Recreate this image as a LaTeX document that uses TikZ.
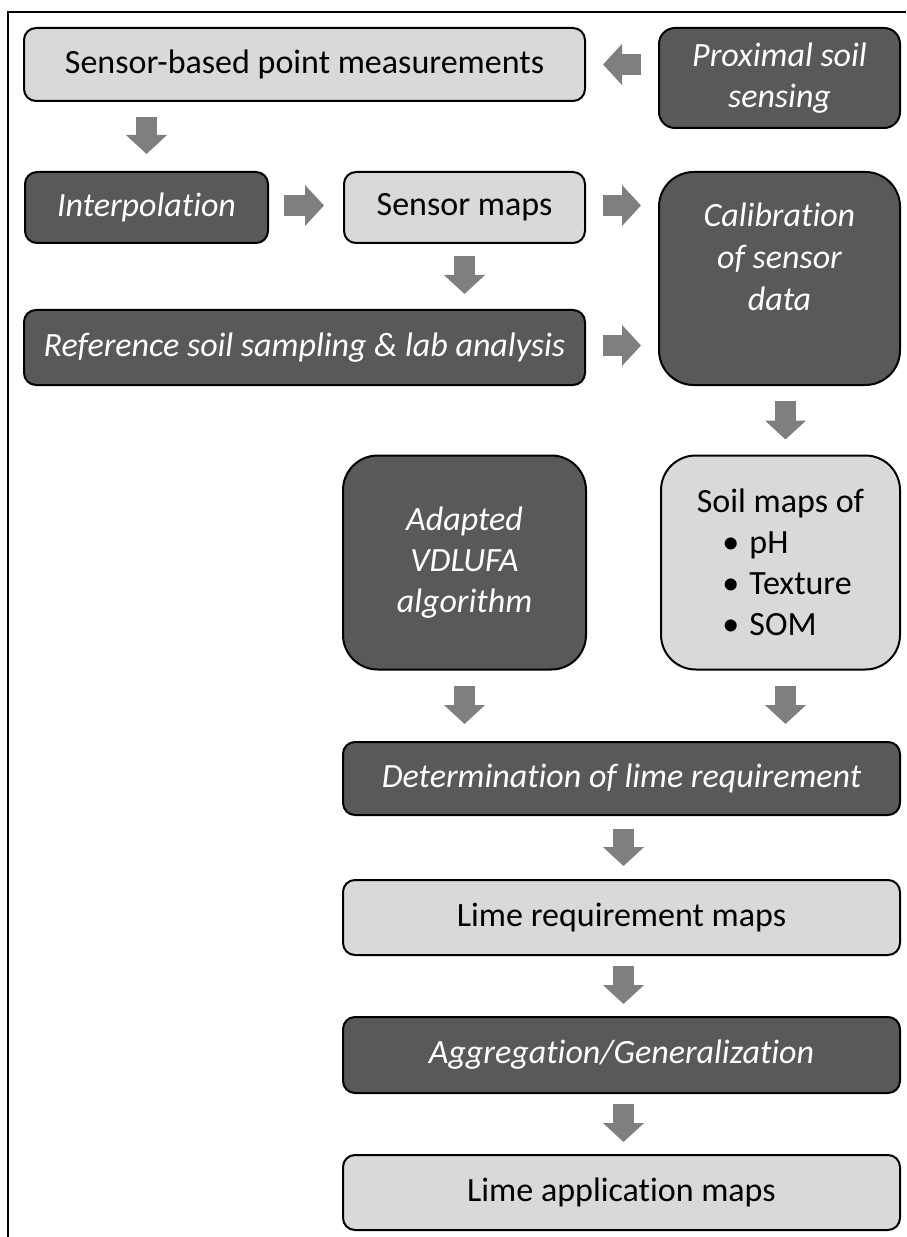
\documentclass[tikz,border=0pt]{standalone}
\usepackage{fontspec}
\setmainfont{Carlito}[Ligatures=NoCommon]
\usetikzlibrary{arrows.meta,calc}
\definecolor{lightfill}{HTML}{D9D9D9}
\definecolor{darkfill}{HTML}{595959}
\definecolor{arrowgray}{HTML}{7F7F7F}
\tikzset{
  boxbase/.style={draw=black, line width=1.5pt, align=center, inner sep=2pt,
    font=\fontsize{25.5pt}{30.75pt}\selectfont},
  lightbox/.style={boxbase, fill=lightfill, text=black},
  darkbox/.style={boxbase, fill=darkfill, text=white, font=\fontsize{25.5pt}{30.75pt}\selectfont\itshape},
  smallr/.style={rounded corners=9pt},
  bigr/.style={rounded corners=26pt},
  blockarrow/.style={draw=arrowgray, line width=15.75pt,
    -{Triangle[length=14.25pt, width=30pt, fill=arrowgray]}},
  frameline/.style={draw=black, line width=1.5pt}
}
\begin{document}
\begin{tikzpicture}[x=0.75pt, y=-0.75pt]
\useasboundingbox (0,0) rectangle (906,1237);
\fill[white] (0,0) rectangle (906,1237);
\draw[frameline] (8,1237) -- (8,12) -- (906,12);

% boxes
\node[lightbox, smallr, minimum width=420.75pt, minimum height=54.75pt] (sbpm) at (304.5,64.5) {Sensor-based point measurements};
\node[darkbox, rounded corners=12pt, minimum width=180.75pt, minimum height=75pt] (pss) at (779.5,78) {Proximal soil\\sensing};
\node[darkbox, smallr, minimum width=182.25pt, minimum height=53.25pt] (interp) at (146.5,207.5) {Interpolation};
\node[lightbox, smallr, minimum width=180.75pt, minimum height=53.25pt] (smaps) at (464.5,207.5) {Sensor maps};
\node[darkbox, bigr, minimum width=180.75pt, minimum height=159.75pt] (calib) at (779.5,278.5) {};
\node[text=white, align=center, font=\fontsize{25.5pt}{31.5pt}\selectfont\itshape] (calibtext) at ($(calib.center)+(0,-22)$) {Calibration\\of sensor\\data};
\node[darkbox, smallr, minimum width=420.75pt, minimum height=56.25pt] (ref) at (304.5,347.5) {Reference soil sampling \& lab analysis};
\node[darkbox, bigr, minimum width=182.25pt, minimum height=160.5pt] (adapt) at (464.5,562.5) {Adapted\\VDLUFA\\algorithm};
\node[lightbox, bigr, minimum width=179.25pt, minimum height=160.5pt, align=left] (soil) at (780.5,562.5) {Soil maps of\\\hspace*{0.75em}•\hspace{0.3em}pH\\\hspace*{0.75em}•\hspace{0.3em}Texture\\\hspace*{0.75em}•\hspace{0.3em}SOM};
\node[darkbox, smallr, minimum width=417.75pt, minimum height=54.75pt] (det) at (621.5,778.5) {Determination of lime requirement};
\node[lightbox, smallr, minimum width=417.75pt, minimum height=56.25pt] (lreq) at (621.5,917.5) {Lime requirement maps};
\node[darkbox, smallr, minimum width=417.75pt, minimum height=57pt] (agg) at (621.5,1055) {Aggregation/Generalization};
\node[lightbox, smallr, minimum width=417.75pt, minimum height=56.25pt] (lapp) at (621.5,1192.5) {Lime application maps};

% connectors (block arrows)
\draw[blockarrow] ($(pss.west |- sbpm.east)+(-17,0)$) -- ($(sbpm.east)+(17,0)$);
\draw[blockarrow] ($(sbpm.south -| interp.north)+(0,15)$) -- ($(interp.north)+(0,-17)$);
\draw[blockarrow] ($(interp.east)+(15,-2)$) -- ($(smaps.west)+(-19,-2)$);
\draw[blockarrow] ($(smaps.east)+(17,-2)$) -- ($(calib.west |- smaps.east)+(-17,-2)$);
\draw[blockarrow] ($(smaps.south)+(0,12)$) -- ($(ref.north -| smaps.south)+(0,-15)$);
\draw[blockarrow] ($(ref.east)+(17,-2)$) -- ($(calib.west |- ref.east)+(-17,-2)$);
\draw[blockarrow] ($(calib.south)+(6,15)$) -- ($(soil.north)+(5,-15)$);
\draw[blockarrow] ($(adapt.south)+(0,15)$) -- ($(det.north -| adapt.south)+(0,-17)$);
\draw[blockarrow] ($(soil.south)+(5,15)$) -- ($(det.north -| soil.south)+(5,-17)$);
\draw[blockarrow] ($(det.south)+(2,13)$) -- ($(lreq.north)+(2,-13)$);
\draw[blockarrow] ($(lreq.south)+(2,10)$) -- ($(agg.north)+(2,-12)$);
\draw[blockarrow] ($(agg.south)+(2,10)$) -- ($(lapp.north)+(2,-12)$);
\end{tikzpicture}
\end{document}
